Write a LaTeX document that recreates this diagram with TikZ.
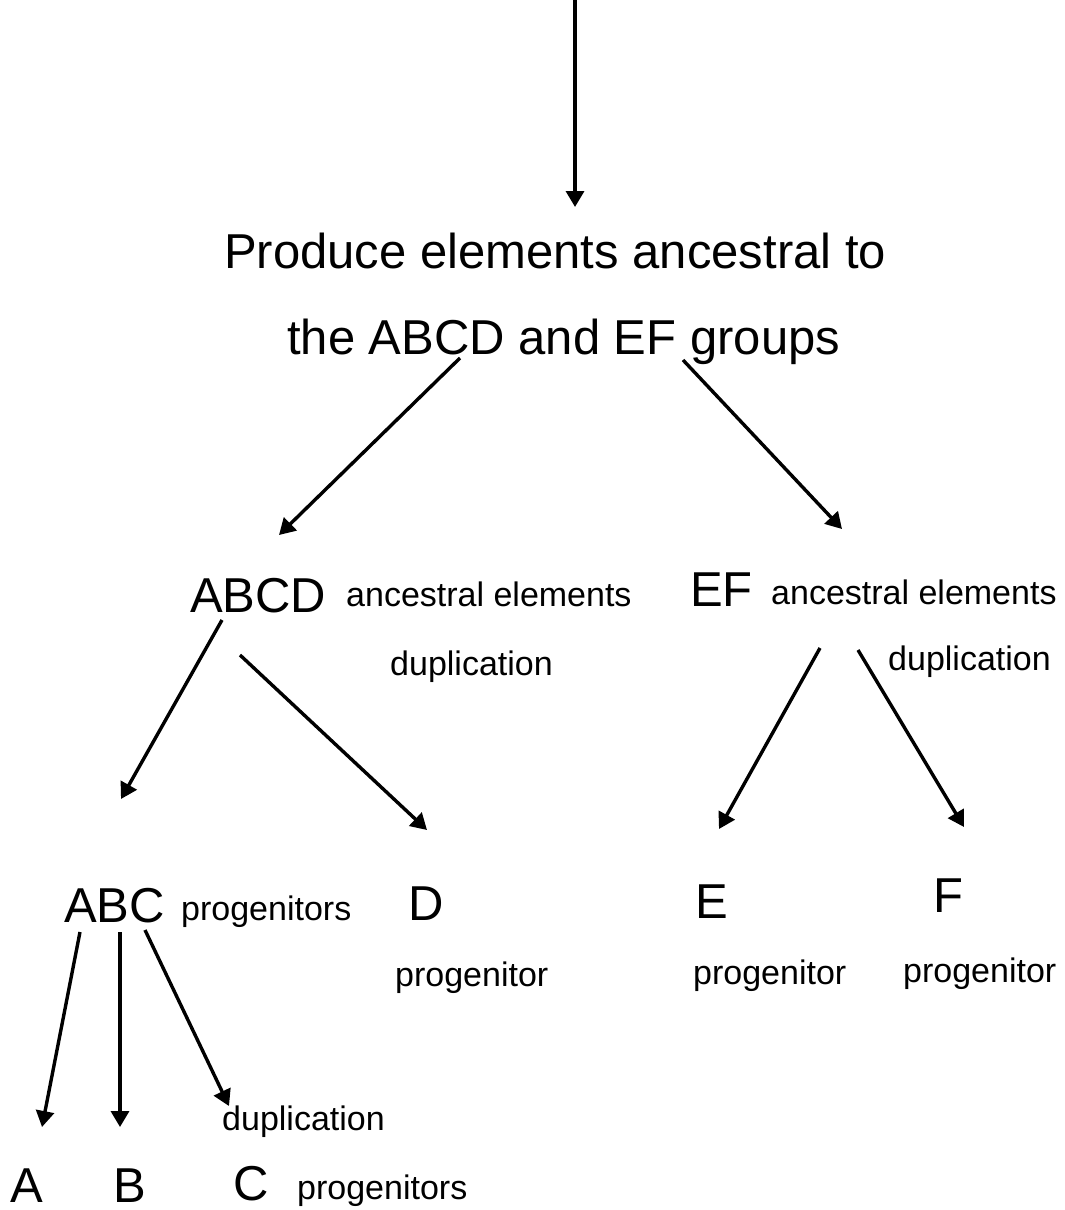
\documentclass[tikz,border=0pt]{standalone}
\usepackage{fontspec}
\setmainfont{Liberation Sans}
\usetikzlibrary{arrows.meta}
\tikzset{
  big/.style={font=\fontsize{49}{58}\selectfont, inner sep=0pt, anchor=base west},
  small/.style={font=\fontsize{34}{40}\selectfont, inner sep=0pt, anchor=base west},
  arr/.style={line width=3.4pt, -{Triangle[width=18pt,length=16pt]}}
}
\begin{document}
\begin{tikzpicture}[x=1pt,y=-1pt]
\useasboundingbox (0,0) rectangle (1065,1210);
% texts
\node[big] (t1) at (224,268) {Produce elements ancestral to};
\node[big] (t2) at (287,354) {the ABCD and EF groups};
\node[big] (abcd) at (190,612) {ABCD};
\node[small] (abcdl) at (346,606) {ancestral elements};
\node[small] (dup1) at (390,675) {duplication};
\node[big] (ef) at (690,606) {EF};
\node[small] (efl) at (771,604) {ancestral elements};
\node[small] (dup2) at (888,670) {duplication};
\node[big] (abc) at (64,922) {ABC};
\node[small] (abcl) at (181,920) {progenitors};
\node[big] (d) at (408,920) {D};
\node[small] (dl) at (395,986) {progenitor};
\node[big] (e) at (695,918) {E};
\node[small] (el) at (693,984) {progenitor};
\node[big] (f) at (933,912) {F};
\node[small] (fl) at (903,982) {progenitor};
\node[small] (dup3) at (222,1130) {duplication};
\node[big] (a) at (10,1202) {A};
\node[big] (b) at (113,1202) {B};
\node[big] (c) at (233,1200) {C};
\node[small] (cl) at (297,1199) {progenitors};
% arrow endpoints
\coordinate (s0) at (575,0);
\coordinate (e0) at (575,207);
\coordinate (s1) at (460,358);
\coordinate (e1) at (279,535);
\coordinate (s2) at (683,360);
\coordinate (e2) at (842,529);
\coordinate (s3) at (222,620);
\coordinate (e3) at (121,799);
\coordinate (s4) at (240,655);
\coordinate (e4) at (427,830);
\coordinate (s5) at (820,648);
\coordinate (e5) at (719,829);
\coordinate (s6) at (858,650);
\coordinate (e6) at (964,827);
\coordinate (s7) at (80,932);
\coordinate (e7) at (42,1127);
\coordinate (s8) at (120,932);
\coordinate (e8) at (120,1127);
\coordinate (s9) at (145,930);
\coordinate (e9) at (229,1106);
\draw[arr] (s0) -- (e0);
\draw[arr] (s1) -- (e1);
\draw[arr] (s2) -- (e2);
\draw[arr] (s3) -- (e3);
\draw[arr] (s4) -- (e4);
\draw[arr] (s5) -- (e5);
\draw[arr] (s6) -- (e6);
\draw[arr] (s7) -- (e7);
\draw[arr] (s8) -- (e8);
\draw[arr] (s9) -- (e9);
\end{tikzpicture}
\end{document}
